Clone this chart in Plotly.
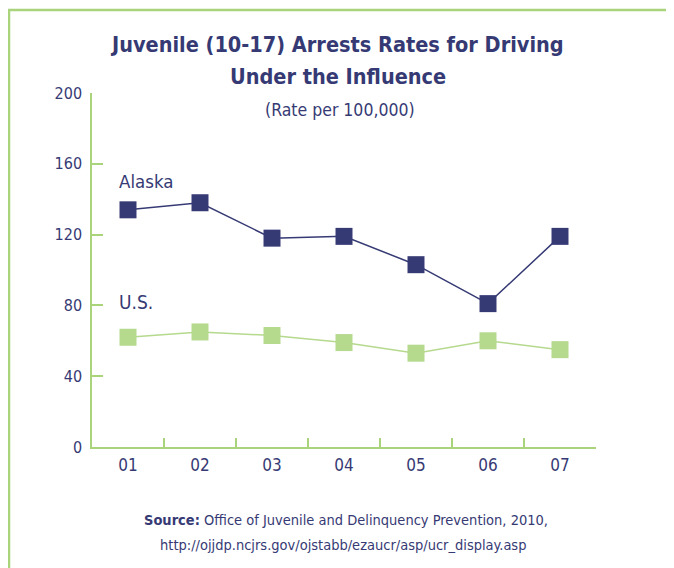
import plotly.graph_objects as go

years = ["01", "02", "03", "04", "05", "06", "07"]
alaska = [134, 138, 118, 119, 103, 81, 119]
us = [62, 65, 63, 59, 53, 60, 55]
y_ticks = [0, 40, 80, 120, 160, 200]

NAVY = "#363a74"
GREEN = "#b5d98d"
AXIS = "#a9d47c"
FONT = "Liberation Sans Narrow, DejaVu Sans Condensed, Arial Narrow, sans-serif"

# page has an 8px body margin; figure sized to fit the window
OFF = 8
W, H = 666, 560
# plot area in screen pixels: x 92..596, y 93..447
L = 92 - OFF
T = 93 - OFF
R = W - (596 - OFF)
B = H - (447 - OFF)

fig = go.Figure()
fig.add_trace(go.Scatter(x=years, y=us, mode="lines+markers",
                         line=dict(color=GREEN, width=1.5),
                         marker=dict(symbol="square", size=17, color=GREEN),
                         name="U.S.", cliponaxis=False))
fig.add_trace(go.Scatter(x=years, y=alaska, mode="lines+markers",
                         line=dict(color=NAVY, width=1.5),
                         marker=dict(symbol="square", size=17, color=NAVY),
                         name="Alaska", cliponaxis=False))

pw, ph = W - L - R, H - T - B
def px(x):
    return (x - OFF - L) / pw
def py(y):
    return (H - B - (y - OFF)) / ph

def txt(s, x, y, size, anchor="center"):
    return dict(text=s, xref="paper", yref="paper", x=px(x), y=py(y),
                xanchor=anchor, yanchor="middle", showarrow=False,
                font=dict(size=size, color=NAVY, family=FONT))

fig.update_layout(
    width=W, height=H,
    margin=dict(l=L, r=R, t=T, b=B),
    paper_bgcolor="white", plot_bgcolor="white",
    showlegend=False,
    font=dict(family=FONT, color=NAVY, size=16),
    xaxis=dict(type="category", range=[-0.5, 6.5], showgrid=False,
               showline=True, linecolor=AXIS, linewidth=1.5,
               ticks="inside", tickson="boundaries", ticklen=9,
               tickcolor=AXIS, tickwidth=1.5, ticklabelstandoff=2,
               tickfont=dict(size=17, color=NAVY, family=FONT), zeroline=False),
    yaxis=dict(range=[0, 200], tickvals=y_ticks, showgrid=False,
               showline=True, linecolor=AXIS, linewidth=1.5,
               ticks="inside", ticklen=11, tickcolor=AXIS, tickwidth=1.5,
               ticklabelstandoff=5,
               tickfont=dict(size=16, color=NAVY, family=FONT), zeroline=False),
    shapes=[
        dict(type="line", xref="paper", yref="paper",
             x0=px(8), x1=px(674), y0=py(10), y1=py(10),
             line=dict(color=AXIS, width=2.5)),
        dict(type="line", xref="paper", yref="paper",
             x0=px(9), x1=px(9), y0=py(10), y1=py(568),
             line=dict(color=AXIS, width=2.5)),
    ],
    annotations=[
        txt("<b>Juvenile (10-17) Arrests Rates for Driving</b>", 337, 45, 21.5),
        txt("<b>Under the Influence</b>", 338, 77, 21.5),
        txt("(Rate per 100,000)", 340, 110, 17.5),
        txt("Alaska", 117, 181, 18.5, "left"),
        txt("U.S.", 117, 302, 19, "left"),
        txt("<b>Source:</b> Office of Juvenile and Delinquency Prevention, 2010,", 346, 520, 14.5),
        txt("http://ojjdp.ncjrs.gov/ojstabb/ezaucr/asp/ucr_display.asp", 343, 545, 14.5),
    ],
)

fig.write_html("out.html")
